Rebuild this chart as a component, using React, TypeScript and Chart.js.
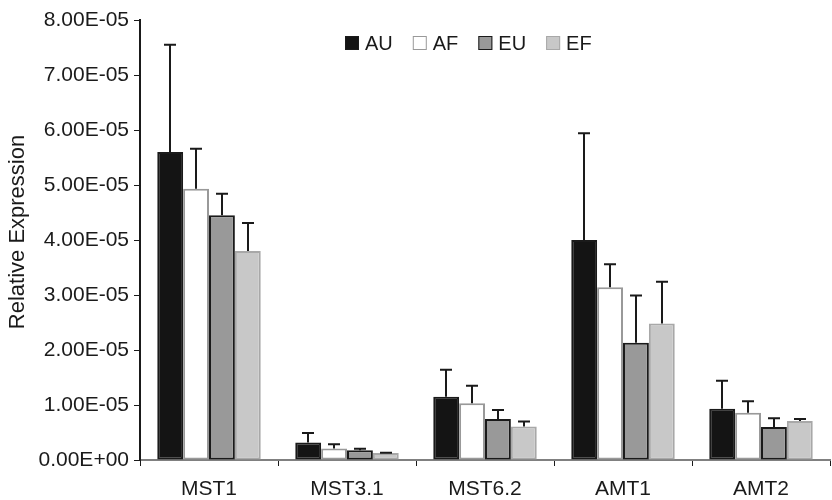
import React, { useEffect, useRef } from "react";
import { Chart, registerables } from "chart.js";

Chart.register(...registerables);

const categories = ["MST1", "MST3.1", "MST6.2", "AMT1", "AMT2"];
const seriesNames = ["AU", "AF", "EU", "EF"];

const auValues = [5.6e-5, 0.32e-5, 1.15e-5, 4.0e-5, 0.93e-5];
const afValues = [4.93e-5, 0.21e-5, 1.03e-5, 3.14e-5, 0.86e-5];
const euValues = [4.45e-5, 0.176e-5, 0.745e-5, 2.13e-5, 0.6e-5];
const efValues = [3.8e-5, 0.127e-5, 0.61e-5, 2.48e-5, 0.71e-5];

const auErrors = [1.95e-5, 0.17e-5, 0.49e-5, 1.94e-5, 0.51e-5];
const afErrors = [0.73e-5, 0.075e-5, 0.32e-5, 0.42e-5, 0.21e-5];
const euErrors = [0.39e-5, 0.03e-5, 0.165e-5, 0.86e-5, 0.16e-5];
const efErrors = [0.51e-5, 0.006e-5, 0.09e-5, 0.76e-5, 0.035e-5];

const yTickLabels = [
  "0.00E+00",
  "1.00E-05",
  "2.00E-05",
  "3.00E-05",
  "4.00E-05",
  "5.00E-05",
  "6.00E-05",
  "7.00E-05",
  "8.00E-05",
];

const yTitle = "Relative Expression";

const FONT = "'Liberation Sans', Arial, Helvetica, sans-serif";
const TEXT = "#1a1a1a";

const fills = ["#141414", "#ffffff", "#999999", "#c8c8c8"];
const borders = ["#1a1a1a", "#999999", "#1a1a1a", "#a8a8a8"];

const errorBarsPlugin = {
  id: "errorBars",
  afterDatasetsDraw(chart: any) {
    const ctx = chart.ctx;
    const yScale = chart.scales.y;
    ctx.save();
    ctx.strokeStyle = "#1a1a1a";
    ctx.lineWidth = 2;
    chart.data.datasets.forEach((ds: any, i: number) => {
      const meta = chart.getDatasetMeta(i);
      meta.data.forEach((bar: any, j: number) => {
        const v = ds.data[j];
        const e = ds.errors[j];
        const yTop = yScale.getPixelForValue(v + e);
        const yBase = yScale.getPixelForValue(v);
        const x = Math.round(bar.x);
        ctx.beginPath();
        ctx.moveTo(x, yBase);
        ctx.lineTo(x, yTop);
        ctx.moveTo(x - 6, yTop);
        ctx.lineTo(x + 6, yTop);
        ctx.stroke();
      });
    });
    ctx.restore();
  },
};

const legendTitlePlugin = {
  id: "legendTitle",
  afterDraw(chart: any) {
    const ctx = chart.ctx;
    ctx.save();
    // legend
    ctx.font = `20px ${FONT}`;
    ctx.textBaseline = "middle";
    ctx.textAlign = "left";
    let x = 345;
    const y = 43;
    chart.data.datasets.forEach((ds: any) => {
      ctx.fillStyle = ds.backgroundColor;
      ctx.fillRect(x, y - 7, 14, 14);
      ctx.strokeStyle = ds.borderColor;
      ctx.lineWidth = 1;
      ctx.strokeRect(x + 0.5, y - 6.5, 13, 13);
      ctx.fillStyle = TEXT;
      ctx.fillText(ds.label, x + 20, y + 1);
      const w = ctx.measureText(ds.label).width;
      x += 20 + w + 20;
    });
    // y title
    ctx.translate(18, 232);
    ctx.rotate(-Math.PI / 2);
    ctx.textAlign = "center";
    ctx.font = `22px ${FONT}`;
    ctx.fillText(yTitle, 0, 0);
    ctx.restore();
  },
};

export default function App() {
  const canvasRef = useRef<HTMLCanvasElement | null>(null);

  useEffect(() => {
    document.body.style.margin = "0";
    const allValues = [auValues, afValues, euValues, efValues];
    const allErrors = [auErrors, afErrors, euErrors, efErrors];
    const chart = new Chart(canvasRef.current as HTMLCanvasElement, {
      type: "bar",
      data: {
        labels: categories,
        datasets: seriesNames.map((name, i) => ({
          label: name,
          data: allValues[i],
          errors: allErrors[i],
          backgroundColor: fills[i],
          borderColor: borders[i],
          borderWidth: 2,
          borderSkipped: false,
          categoryPercentage: 0.75,
          barPercentage: 1,
        })) as any,
      },
      options: {
        animation: false,
        responsive: true,
        maintainAspectRatio: false,
        layout: { padding: { top: 20, right: 2, left: 0, bottom: 0 } },
        plugins: {
          legend: { display: false },
          tooltip: { enabled: false },
        },
        scales: {
          x: {
            offset: true,
            grid: {
              display: true,
              drawOnChartArea: false,
              drawTicks: true,
              tickLength: 6,
              color: "#1a1a1a",
              lineWidth: 1,
              offset: true,
            },
            border: { display: true, color: "#808080", width: 2 },
            ticks: {
              color: TEXT,
              font: { family: FONT, size: 21 },
              padding: 11,
              maxRotation: 0,
            },
            afterFit(scale: any) {
              scale.height = 40;
            },
          },
          y: {
            min: 0,
            max: 8e-5,
            grid: {
              display: true,
              drawOnChartArea: false,
              drawTicks: true,
              tickLength: 6,
              color: "#1a1a1a",
              lineWidth: 1,
            },
            border: { display: true, color: "#1a1a1a", width: 2 },
            ticks: {
              stepSize: 1e-5,
              color: TEXT,
              font: { family: FONT, size: 21 },
              padding: 5,
              callback: (_v: any, idx: number) => yTickLabels[idx],
            },
            afterFit(scale: any) {
              scale.width = 140;
            },
          },
        },
      },
      plugins: [errorBarsPlugin, legendTitlePlugin],
    });
    return () => chart.destroy();
  }, []);

  return (
    <div style={{ width: 832, height: 500, position: "relative" }}>
      <canvas ref={canvasRef} />
    </div>
  );
}
